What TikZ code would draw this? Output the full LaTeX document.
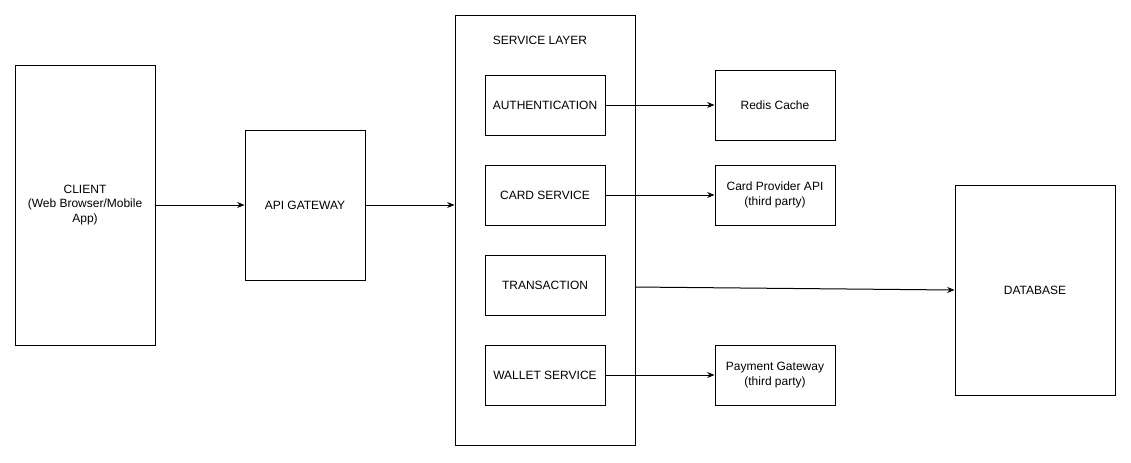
\documentclass[tikz,border=0pt]{standalone}
\usepackage{fontspec}
\setmainfont{Liberation Sans}
\usetikzlibrary{arrows.meta, positioning}

\begin{document}
\begin{tikzpicture}[x=0.75pt, y=-0.75pt, >={Stealth[length=5.5pt, width=4.5pt]},
  line width=0.75pt,
  every node/.style={font=\fontsize{9}{10.8}\selectfont, align=center},
  box/.style={draw, rectangle, inner sep=0pt},
  svcbox/.style={box, minimum width=90pt, minimum height=45pt},
  extbox/.style={box, minimum width=90pt}]

  \useasboundingbox (0,0) rectangle (1131,462);

  % Client et passerelle
  \node[box, minimum width=105pt, minimum height=210pt] (client) at (85,205)
    {CLIENT\\(Web Browser/Mobile\\App)};
  \node[box, minimum width=90pt, minimum height=112.5pt] (gateway) at (305,205) {API GATEWAY};

  % Couche services
  \node[box, minimum width=135pt, minimum height=322.5pt] (svc) at (545,230) {};
  \node (svctitle) at (540,40) {SERVICE LAYER};
  \node[svcbox] (auth) at (545,105) {AUTHENTICATION};
  \node[svcbox] (card) at (545,195) {CARD SERVICE};
  \node[svcbox] (trans) at (545,285) {TRANSACTION};
  \node[svcbox] (wallet) at (545,375) {WALLET SERVICE};

  % Externes
  \node[extbox, minimum height=52.5pt] (redis) at (775,105) {Redis Cache};
  \node[extbox, minimum height=45pt] (provider) at (775,195) {Card Provider API\\(third party)};
  \node[extbox, minimum height=45pt] (payment) at (775,375) {Payment Gateway\\(third party)};
  \node[box, minimum width=120pt, minimum height=157.5pt] (db) at (1035,290) {DATABASE};

  % Flux
  \draw[->] (client) -- (gateway);
  \draw[->] (gateway) -- (gateway -| svc.west);
  \draw[->] (auth) -- (redis);
  \draw[->] (card) -- (provider);
  \draw[->] (wallet) -- (payment);
  \coordinate (svcport) at (635,287);
  \draw[->] (svcport) -- (db.west);

\end{tikzpicture}
\end{document}
